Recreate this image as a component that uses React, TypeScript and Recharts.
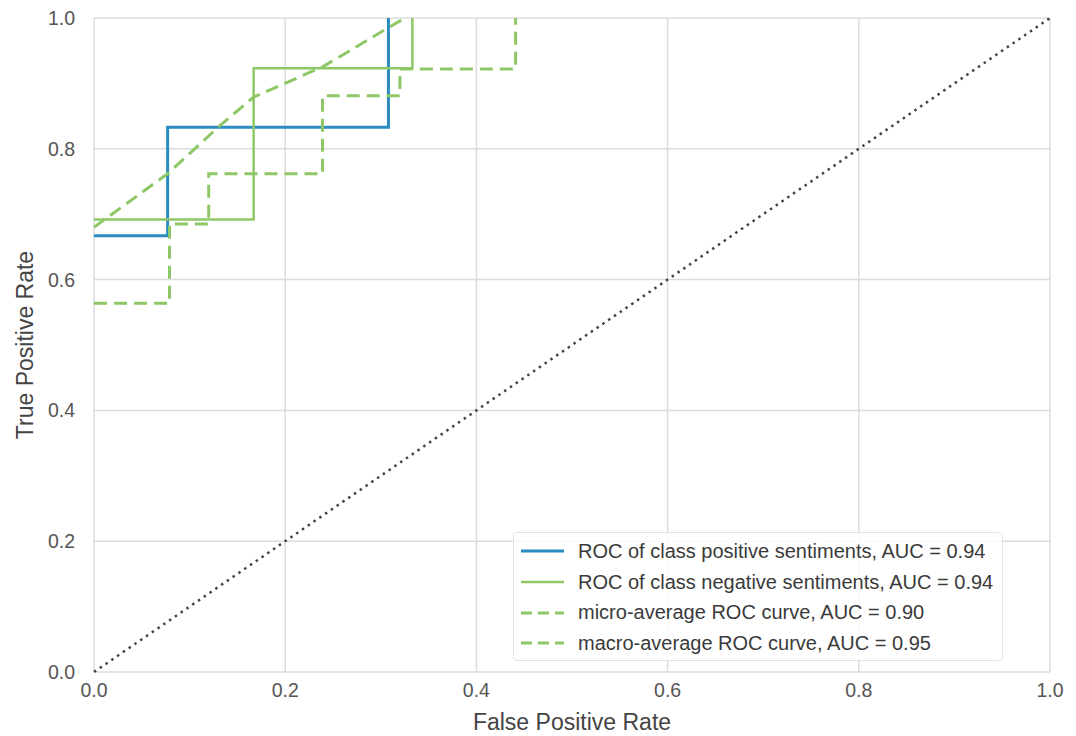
import React from "react";
import { LineChart, Line, XAxis, YAxis, CartesianGrid, Legend } from "recharts";

const posFpr = [0, 0.077, 0.077, 0.308, 0.308];
const posTpr = [0.667, 0.667, 0.833, 0.833, 1.0];
const negFpr = [0, 0.167, 0.167, 0.333, 0.333];
const negTpr = [0.692, 0.692, 0.923, 0.923, 1.0];
const microFpr = [0, 0.078, 0.132, 0.167, 0.24, 0.325];
const microTpr = [0.68, 0.763, 0.836, 0.879, 0.926, 1.0];
const macroFpr = [0, 0.079, 0.079, 0.12, 0.12, 0.239, 0.239, 0.32, 0.32, 0.441, 0.441];
const macroTpr = [0.564, 0.564, 0.685, 0.685, 0.762, 0.762, 0.881, 0.881, 0.922, 0.922, 1.0];
const diagFpr = [0, 1];
const diagTpr = [0, 1];
const ticks = [0, 0.2, 0.4, 0.6, 0.8, 1.0];
const seriesNames = [
  "ROC of class positive sentiments, AUC = 0.94",
  "ROC of class negative sentiments, AUC = 0.94",
  "micro-average ROC curve, AUC = 0.90",
  "macro-average ROC curve, AUC = 0.95",
];

const BLUE = "#2a8cc1";
const GREEN = "#8ec766";
const FONT = "'Liberation Sans', Arial, Helvetica, sans-serif";

const zip = (xs: number[], ys: number[]) => xs.map((x, i) => ({ x, y: ys[i] }));

const legendStyles = [
  { color: BLUE, dash: undefined as string | undefined, width: 3 },
  { color: GREEN, dash: undefined as string | undefined, width: 2.5 },
  { color: GREEN, dash: "11 6", width: 3 },
  { color: GREEN, dash: "11 6", width: 3 },
];

const renderLegend = () => (
  <div
    style={{
      width: 490,
      height: 129,
      background: "rgba(255,255,255,0.85)",
      border: "1px solid #e2e2e2",
      borderRadius: 4,
      boxSizing: "border-box",
      paddingTop: 3,
      fontFamily: FONT,
    }}
  >
    {seriesNames.map((name, i) => (
      <div key={name} style={{ display: "flex", alignItems: "center", height: 30.7 }}>
        <svg width={64} height={10} style={{ marginLeft: 6 }}>
          <line
            x1={1}
            y1={5}
            x2={44}
            y2={5}
            stroke={legendStyles[i].color}
            strokeWidth={legendStyles[i].width}
            strokeDasharray={legendStyles[i].dash}
          />
        </svg>
        <span style={{ fontSize: 20, color: "#3a3a3a", marginLeft: -6, whiteSpace: "nowrap" }}>{name}</span>
      </div>
    ))}
  </div>
);

export default function App() {
  return (
    <div style={{ position: "absolute", left: 0, top: 0, width: 1076, height: 736, background: "#fff" }}>
      <LineChart
        width={1076}
        height={736}
        margin={{ top: 18, right: 26, bottom: 0, left: 0 }}
        style={{ fontFamily: FONT }}
      >
        <CartesianGrid stroke="#dcdcdc" strokeWidth={1.5} />
        <XAxis
          dataKey="x"
          type="number"
          domain={[0, 1]}
          ticks={ticks}
          tickFormatter={(v: number) => v.toFixed(1)}
          height={64}
          axisLine={false}
          tickLine={false}
          tickSize={0}
          tickMargin={11}
          tick={{ fill: "#555", fontSize: 19.5 }}
          label={{ value: "False Positive Rate", position: "insideBottom", offset: 6, fill: "#444", fontSize: 23 }}
        />
        <YAxis
          dataKey="y"
          type="number"
          domain={[0, 1]}
          ticks={ticks}
          tickFormatter={(v: number) => v.toFixed(1)}
          width={94}
          axisLine={false}
          tickLine={false}
          tickSize={0}
          tickMargin={19}
          tick={{ fill: "#555", fontSize: 19.5 }}
          label={{ value: "True Positive Rate", angle: -90, position: "insideLeft", offset: 25, fill: "#444", fontSize: 23, style: { textAnchor: "middle" } }}
        />
        <Line data={zip(posFpr, posTpr)} dataKey="y" name={seriesNames[0]} stroke={BLUE} strokeWidth={3} dot={false} activeDot={false} type="linear" isAnimationActive={false} />
        <Line data={zip(negFpr, negTpr)} dataKey="y" name={seriesNames[1]} stroke={GREEN} strokeWidth={2.5} dot={false} activeDot={false} type="linear" isAnimationActive={false} />
        <Line data={zip(microFpr, microTpr)} dataKey="y" name={seriesNames[2]} stroke={GREEN} strokeWidth={3} strokeDasharray="13 7" dot={false} activeDot={false} type="linear" isAnimationActive={false} />
        <Line data={zip(macroFpr, macroTpr)} dataKey="y" name={seriesNames[3]} stroke={GREEN} strokeWidth={3} strokeDasharray="13 7" dot={false} activeDot={false} type="linear" isAnimationActive={false} />
        <Line data={zip(diagFpr, diagTpr)} dataKey="y" stroke="#444" strokeWidth={2.5} strokeDasharray="2.5 4.5" dot={false} activeDot={false} type="linear" legendType="none" isAnimationActive={false} />
        <Legend
          layout="vertical"
          align="center"
          verticalAlign="middle"
          content={renderLegend}
          wrapperStyle={{ position: "absolute", left: 513, top: 532, width: 490, height: 129 }}
        />
      </LineChart>
    </div>
  );
}
